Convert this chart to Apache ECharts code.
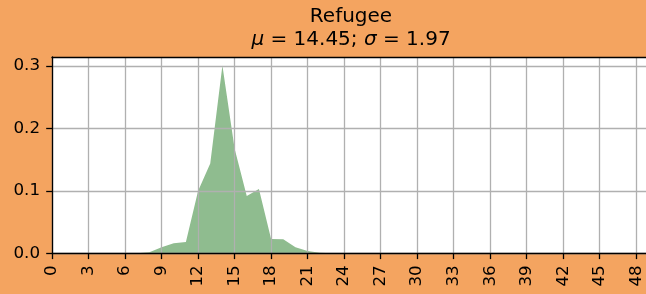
<!DOCTYPE html>
<html>
<head>
<meta charset="utf-8">
<script src="https://cdn.jsdelivr.net/npm/echarts@6/dist/echarts.min.js"></script>
<style>
html,body{margin:0;padding:0;background:#F4A460;}
#chart{width:646px;height:294px;}
</style>
</head>
<body>
<div id="chart"></div>
<script>
var titleText = 'Refugee';
var muText = '14.45';
var sigmaText = '1.97';
var xValues = [0,1,2,3,4,5,6,7,8,9,10,11,12,13,14,15,16,17,18,19,20,21,22,23,24,25,26,27,28,29,30,31,32,33,34,35,36,37,38,39,40,41,42,43,44,45,46,47,48,49];
var yValues = [0,0,0,0,0,0,0,0,0.0016,0.0095,0.016,0.018,0.0998,0.144,0.301,0.168,0.092,0.103,0.023,0.0225,0.0096,0.0035,0.001,0,0,0,0,0,0,0,0,0,0,0,0,0,0,0,0,0,0,0,0,0,0,0,0,0,0,0];
var xTicks = [0,3,6,9,12,15,18,21,24,27,30,33,36,39,42,45,48];
var yTicks = [0,0.1,0.2,0.3];

var chart = echarts.init(document.getElementById('chart'), null, {renderer:'canvas'});
var font = 'DejaVu Sans';
var data = xValues.map(function(x,i){return [x, yValues[i]];});
chart.setOption({
  backgroundColor: '#F4A460',
  animation: false,
  textStyle: {fontFamily: font},
  title: {
    left: 346, top: 0, textAlign: 'center',
    text: '{a|' + titleText + '}\n{i|μ}{n| = ' + muText + '; }{i|σ}{n| = ' + sigmaText + '}',
    textStyle: {
      fontWeight: 'normal',
      rich: {
        a: {fontFamily: font, fontSize: 20, color: '#000', fontWeight: 'normal', lineHeight: 23},
        i: {fontFamily: font, fontSize: 20, color: '#000', fontWeight: 'normal', fontStyle: 'italic', lineHeight: 23},
        n: {fontFamily: font, fontSize: 20, color: '#000', fontWeight: 'normal', lineHeight: 23}
      }
    }
  },
  grid: {
    left: 52, right: 0, top: 57, bottom: 40.7,
    show: true, backgroundColor: '#fff', borderWidth: 0,
    containLabel: false
  },
  xAxis: [{
    type: 'value', min: 0, max: 48.8, interval: 3, z: 3,
    axisLine: {show: true, lineStyle: {color: '#000', width: 1.3}},
    axisTick: {show: true, length: 5.8, lineStyle: {color: '#000', width: 1.3}, customValues: xTicks},
    axisLabel: {show: true, rotate: 90, margin: 12, fontSize: 16.7, color: '#000', fontFamily: font, customValues: xTicks,
      formatter: function(v){return String(v);}},
    splitLine: {show: true, lineStyle: {color: '#b0b0b0', width: 1.3}}
  }, {
    type: 'value', position: 'top', min: 0, max: 48.8, z: 3,
    axisLine: {show: true, lineStyle: {color: '#000', width: 1.3}},
    axisTick: {show: false}, axisLabel: {show: false}, splitLine: {show: false}
  }],
  yAxis: {
    type: 'value', min: 0, max: 0.3145, interval: 0.1, z: 3,
    axisLine: {show: true, lineStyle: {color: '#000', width: 1.3}},
    axisTick: {show: true, length: 5.8, lineStyle: {color: '#000', width: 1.3}, customValues: yTicks},
    axisLabel: {show: true, margin: 12, fontSize: 16.7, color: '#000', fontFamily: font, customValues: yTicks,
      formatter: function(v){return v.toFixed(1);}},
    splitLine: {show: true, lineStyle: {color: '#b0b0b0', width: 1.3}}
  },
  series: [{
    type: 'line', data: data, symbol: 'none', z: 2, xAxisIndex: 0,
    lineStyle: {width: 0, color: '#8FBC8F'},
    itemStyle: {color: '#8FBC8F'},
    areaStyle: {color: '#8FBC8F', opacity: 1}
  }]
});
</script>
</body>
</html>
